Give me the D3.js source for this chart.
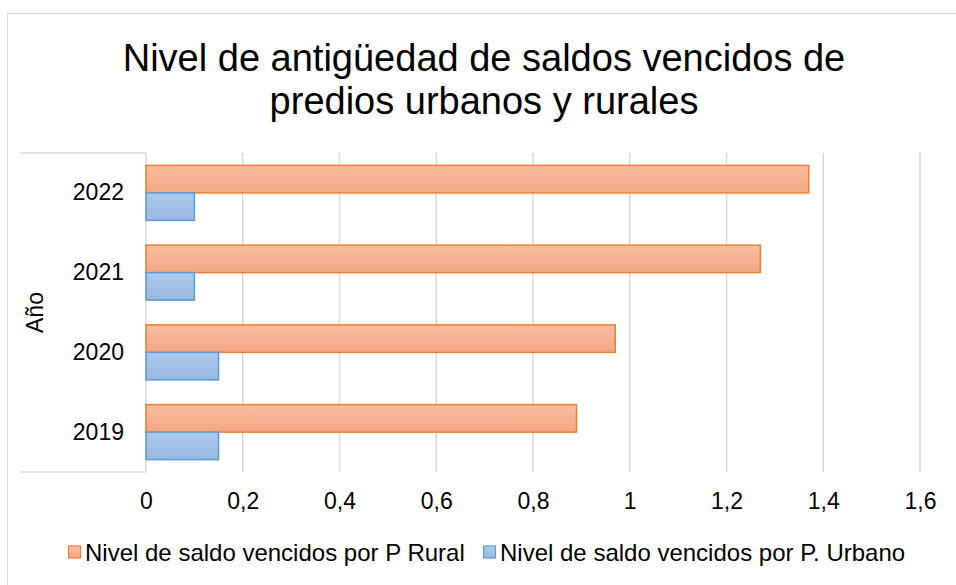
<!DOCTYPE html>
<html>
<head>
<meta charset="utf-8">
<script src="https://cdn.jsdelivr.net/npm/d3@7"></script>
<style>
  body { margin: 0; background: #fff; }
  svg text { font-family: "Liberation Sans", Arial, sans-serif; fill: #000; }
</style>
</head>
<body>
<div id="chart"></div>
<script>
// data
const years = ['2019', '2020', '2021', '2022']
const rural = [0.89, 0.97, 1.27, 1.37]
const urbano = [0.15, 0.15, 0.10, 0.10]
const xTicks = [0, 0.2, 0.4, 0.6, 0.8, 1, 1.2, 1.4, 1.6]
const seriesNames = ['Nivel de saldo vencidos por P Rural', 'Nivel de saldo vencidos por P. Urbano']
const titleLines = ['Nivel de antigüedad de saldos vencidos de', 'predios urbanos y rurales']

const width = 956
const height = 585
const plot = {left: 146, right: 920, top: 153, bottom: 472}
const labelFont = '23px'

const svg = d3.select('#chart').append('svg')
  .attr('width', width)
  .attr('height', height)

let defs = svg.append('defs')
let gradO = defs.append('linearGradient').attr('id', 'gO').attr('x1', 0).attr('y1', 0).attr('x2', 0).attr('y2', 1)
gradO.append('stop').attr('offset', '0%').attr('stop-color', '#F7BEA2')
gradO.append('stop').attr('offset', '100%').attr('stop-color', '#F3A783')
let gradB = defs.append('linearGradient').attr('id', 'gB').attr('x1', 0).attr('y1', 0).attr('x2', 0).attr('y2', 1)
gradB.append('stop').attr('offset', '0%').attr('stop-color', '#AECAEB')
gradB.append('stop').attr('offset', '100%').attr('stop-color', '#96B8E2')

// chart area border
svg.append('rect')
  .attr('x', 7.5).attr('y', 13.5)
  .attr('width', 960).attr('height', 600)
  .attr('fill', '#fff')
  .attr('stroke', '#D9D9D9')
  .attr('stroke-width', 1)

// title
svg.append('text')
  .attr('x', 484)
  .attr('y', 71)
  .attr('text-anchor', 'middle')
  .style('font-size', '38px')
  .selectAll('tspan').data(titleLines).enter().append('tspan')
  .attr('x', 484)
  .attr('dy', (d, i) => i === 0 ? 0 : 43)
  .text(d => d)

const x = d3.scaleLinear().domain([0, 1.6]).range([plot.left, plot.right])
const y = d3.scaleBand().domain(years.slice().reverse()).range([plot.top, plot.bottom])
const inner = d3.scaleBand().domain(['rural', 'urbano']).range([0, y.bandwidth()]).paddingOuter(0.45)

// gridlines
svg.append('g')
  .selectAll('line').data(xTicks.slice(1)).enter().append('line')
  .attr('x1', d => x(d)).attr('x2', d => x(d))
  .attr('y1', plot.top).attr('y2', plot.bottom)
  .attr('stroke', '#D9D9D9')
  .attr('stroke-width', 1.5)

// category axis box
svg.append('path')
  .attr('d', `M20,${plot.top}H${plot.left}V${plot.bottom}H20`)
  .attr('fill', 'none')
  .attr('stroke', '#D9D9D9')
  .attr('stroke-width', 1.5)

// x axis labels
const xAxis = d3.axisBottom(x).tickValues(xTicks).tickSize(0).tickPadding(0)
  .tickFormat(d => String(d).replace('.', ','))
let gx = svg.append('g')
  .attr('transform', `translate(0,${plot.bottom + 21})`)
  .call(xAxis)
gx.select('.domain').remove()
gx.selectAll('text')
  .attr('dy', '0.71em')
  .style('font-size', labelFont)
  .style('font-family', '"Liberation Sans", Arial, sans-serif')
  .attr('fill', '#000')

// y axis labels
const yAxis = d3.axisLeft(y).tickSize(0).tickPadding(22)
let gy = svg.append('g')
  .attr('transform', `translate(${plot.left},0)`)
  .call(yAxis)
gy.select('.domain').remove()
gy.selectAll('text')
  .style('font-size', labelFont)
  .style('font-family', '"Liberation Sans", Arial, sans-serif')
  .attr('fill', '#000')

// y axis title
svg.append('text')
  .attr('transform', `translate(43,${(plot.top + plot.bottom) / 2}) rotate(-90)`)
  .attr('text-anchor', 'middle')
  .style('font-size', labelFont)
  .text('Año')

// bars
let rows = years.map((yr, i) => ({yr, rural: rural[i], urbano: urbano[i]}))
let barG = svg.append('g')
barG.selectAll('.rural').data(rows).enter().append('rect')
  .attr('class', 'rural')
  .attr('x', x(0))
  .attr('y', d => y(d.yr) + inner('rural'))
  .attr('width', d => x(d.rural) - x(0))
  .attr('height', inner.bandwidth())
  .attr('fill', 'url(#gO)')
  .attr('stroke', '#ED7D31')
  .attr('stroke-width', 1.5)
barG.selectAll('.urbano').data(rows).enter().append('rect')
  .attr('class', 'urbano')
  .attr('x', x(0))
  .attr('y', d => y(d.yr) + inner('urbano'))
  .attr('width', d => x(d.urbano) - x(0))
  .attr('height', inner.bandwidth())
  .attr('fill', 'url(#gB)')
  .attr('stroke', '#5B9BD5')
  .attr('stroke-width', 1.5)

// legend
const legendItems = [
  {name: seriesNames[0], fill: 'url(#gO)', stroke: '#ED7D31', x: 68},
  {name: seriesNames[1], fill: 'url(#gB)', stroke: '#5B9BD5', x: 483}
]
let lg = svg.append('g').selectAll('g').data(legendItems).enter().append('g')
  .attr('transform', d => `translate(${d.x},552)`)
lg.append('rect')
  .attr('x', 0.5).attr('y', -6)
  .attr('width', 12).attr('height', 12)
  .attr('fill', d => d.fill)
  .attr('stroke', d => d.stroke)
  .attr('stroke-width', 1.2)
lg.append('text')
  .attr('x', 17)
  .attr('dy', '0.36em')
  .style('font-size', '24px')
  .text(d => d.name)
</script>
</body>
</html>
